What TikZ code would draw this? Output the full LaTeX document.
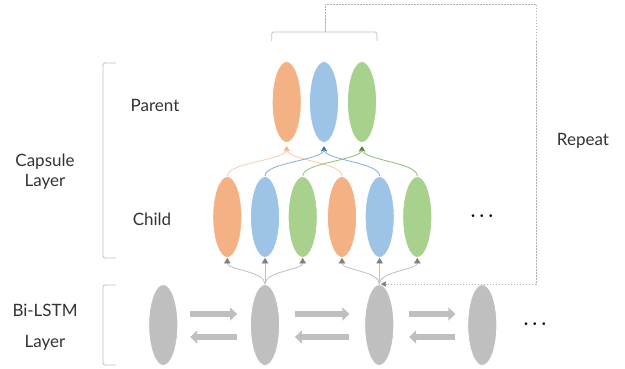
\documentclass[tikz,border=0pt]{standalone}
\usepackage{fontspec}
\setmainfont{Lato}
\usepackage{tikz}
\usepackage{xcolor}
\usetikzlibrary{shapes.geometric,arrows.meta}
\definecolor{capOrange}{HTML}{F4B183}
\definecolor{capBlue}{HTML}{9DC3E6}
\definecolor{capGreen}{HTML}{A9D18E}
\definecolor{lineOrange}{HTML}{F8CBAD}
\definecolor{lineBlue}{HTML}{7FAEDD}
\definecolor{lineGreen}{HTML}{8CBF6E}
\definecolor{tipBlue}{HTML}{2E75B6}
\definecolor{tipGreen}{HTML}{548235}
\definecolor{lstmGray}{HTML}{BFBFBF}
\definecolor{feedGray}{HTML}{B0B0B0}
\definecolor{darkGray}{HTML}{808080}
\tikzset{
    capsule/.style = {ellipse, minimum width=29pt, minimum height=81pt, inner sep=0pt, draw=white, line width=0.8pt},
    orange-cap/.style = {capsule, fill=capOrange},
    blue-cap/.style = {capsule, fill=capBlue},
    green-cap/.style = {capsule, fill=capGreen},
    lstm-cell/.style = {capsule, fill=lstmGray},
    layer-label/.style = {align=center, text=black!80, font=\fontsize{17}{20}\selectfont},
    more-dots/.style = {anchor=base, font=\fontsize{18}{20}\selectfont\boldmath},
    route/.style = {line width=0.8pt, -{Stealth[length=5pt, width=6pt, color=#1]}},
    feed/.style = {draw=lstmGray, line width=0.8pt, -{Triangle[length=5.5pt, width=6.5pt, color=darkGray]}},
    block-arrow/.style = {draw=lstmGray, line width=6pt, -{Triangle[length=7pt, width=13pt]}},
    brace/.style = {draw=lstmGray, line width=0.8pt, rounded corners=1.5pt},
    repeat-line/.style = {draw=feedGray, line width=0.5pt, dash pattern=on 1.5pt off 1.5pt, -{Triangle[length=5pt, width=5pt, color=darkGray]}},
}

\begin{document}
\begin{tikzpicture}[x=1pt, y=-1pt]
\useasboundingbox (0,0) rectangle (625,369);

% parent capsules
\node [orange-cap] (p1) at (286.7,102) {};
\node [blue-cap] (p2) at (324,102) {};
\node [green-cap] (p3) at (362,102) {};
\coordinate (t1) at ([yshift=-3.5pt]p1.south);
\coordinate (t2) at ([yshift=-3.5pt]p2.south);
\coordinate (t3) at ([yshift=-3.5pt]p3.south);

% child capsules
\node [orange-cap] (c1) at (227.3,217) {};
\node [blue-cap] (c2) at (265,217) {};
\node [green-cap] (c3) at (302.7,217) {};
\node [orange-cap] (c4) at (342,217) {};
\node [blue-cap] (c5) at (379.7,217) {};
\node [green-cap] (c6) at (417.3,217) {};
\node [more-dots] (cdots) at (482,220) {$\cdots$};

% bi-lstm cells
\node [lstm-cell] (l1) at (163.3,325) {};
\node [lstm-cell] (l2) at (265,325) {};
\node [lstm-cell] (l3) at (379.3,325) {};
\node [lstm-cell] (l4) at (482.3,325) {};
\node [more-dots] (ldots) at (535,328) {$\cdots$};

% routing child -> parent
\draw [route=capOrange, draw=lineOrange] (c1.north) .. controls +(0,-14) and +(0,14) .. (t1);
\draw [route=capOrange, draw=lineOrange] (c4.north) .. controls +(0,-14) and +(0,14) .. (t1);
\draw [route=tipBlue, draw=lineBlue] (c2.north) .. controls +(0,-14) and +(0,14) .. (t2);
\draw [route=tipBlue, draw=lineBlue] (c5.north) .. controls +(0,-14) and +(0,14) .. (t2);
\draw [route=tipGreen, draw=lineGreen] (c3.north) .. controls +(0,-14) and +(0,14) .. (t3);
\draw [route=tipGreen, draw=lineGreen] (c6.north) .. controls +(0,-14) and +(0,14) .. (t3);

% lstm -> child
\draw [feed] (l2.north) .. controls +(0,-13) and +(0,12) .. (c1.south);
\draw [feed] (l2.north) -- (c2.south);
\draw [feed] (l2.north) .. controls +(0,-13) and +(0,12) .. (c3.south);
\draw [feed] (l3.north) .. controls +(0,-13) and +(0,12) .. (c4.south);
\draw [feed] (l3.north) -- (c5.south);
\draw [feed] (l3.north) .. controls +(0,-13) and +(0,12) .. (c6.south);

% forward / backward
\draw [block-arrow] ([xshift=12pt, yshift=11pt]l1.east) -- ([xshift=-13pt, yshift=11pt]l2.west);
\draw [block-arrow] ([xshift=-13pt, yshift=-12pt]l2.west) -- ([xshift=12pt, yshift=-12pt]l1.east);
\draw [block-arrow] ([xshift=15pt, yshift=11pt]l2.east) -- ([xshift=-15pt, yshift=11pt]l3.west);
\draw [block-arrow] ([xshift=-15pt, yshift=-12pt]l3.west) -- ([xshift=15pt, yshift=-12pt]l2.east);
\draw [block-arrow] ([xshift=15pt, yshift=11pt]l3.east) -- ([xshift=-12pt, yshift=11pt]l4.west);
\draw [block-arrow] ([xshift=-12pt, yshift=-12pt]l4.west) -- ([xshift=15pt, yshift=-12pt]l3.east);

% repeat loop
\coordinate (brk) at (325,20);
\draw [brace] (p1.west |- 0,41) -- (p1.west |- 0,32) -- (p3.east |- 0,32) -- (p3.east |- 0,41);
\draw [brace] (brk |- 0,32) -- (brk);
\draw [repeat-line] (brk) |- (536,4) |- ([xshift=1.5pt]l3.north);
\node [layer-label] (repeat) at (583,141) {Repeat};

% layer brackets
\draw [brace] (116,63) -- (103,63) -- (103,258) -- (116,258);
\draw [brace] (116,285) -- (103,285) -- (103,365) -- (116,365);
\node [layer-label] (capsule) at (45,172) {Capsule\\Layer};
\node [layer-label] (bilstm) at (45,327) {Bi-LSTM\\[11pt]Layer};
\node [layer-label] (parent) at (155,105.5) {Parent};
\node [layer-label] (child) at (152,219.5) {Child};
\end{tikzpicture}
\end{document}
